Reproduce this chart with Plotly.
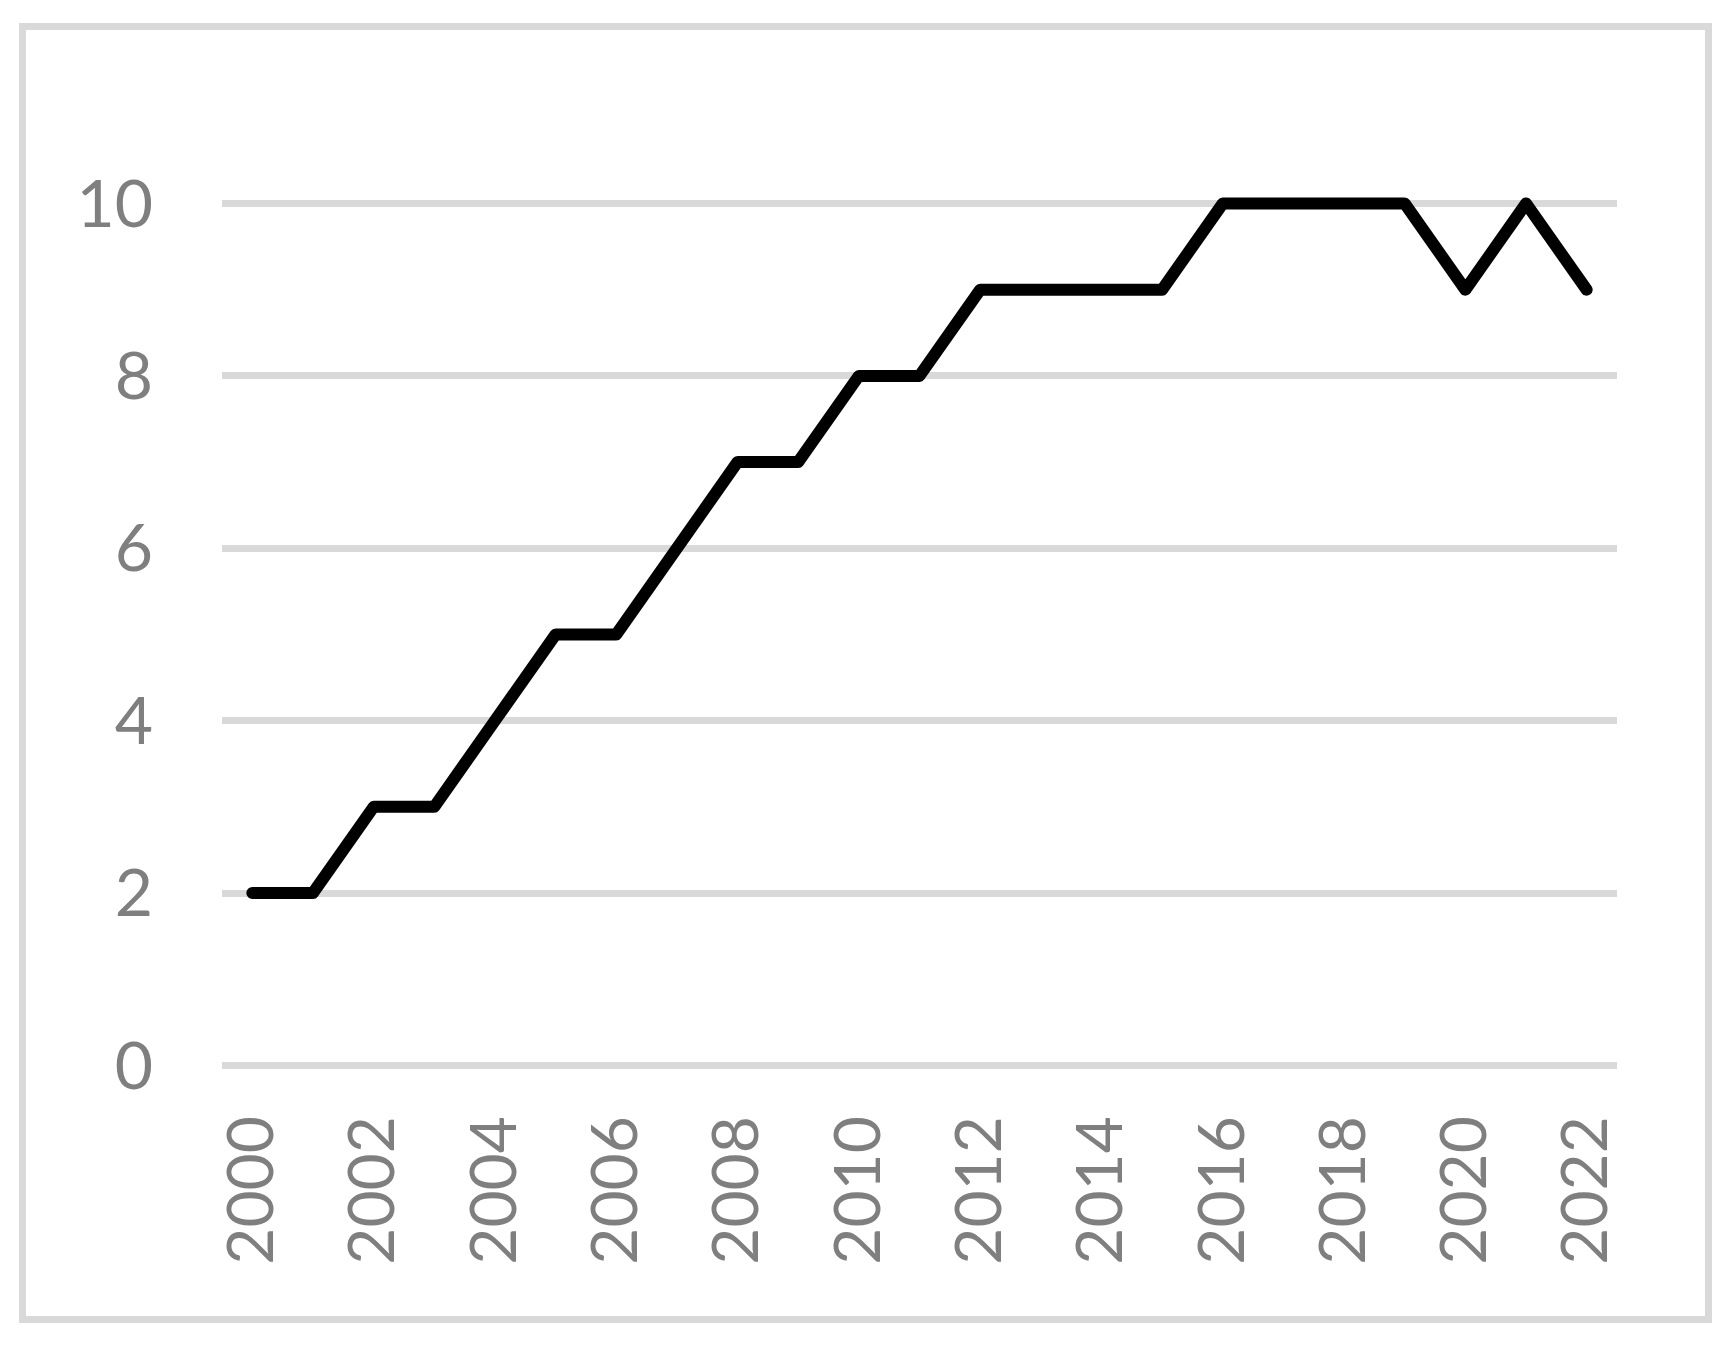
import plotly.graph_objects as go

years = list(range(2000, 2023))
values = [2, 2, 3, 3, 4, 5, 5, 6, 7, 7, 8, 8, 9, 9, 9, 9, 10, 10, 10, 10, 9, 10, 9]
x_ticks = list(range(2000, 2023, 2))
x_tick_labels = [str(v) for v in x_ticks]
y_ticks = [0, 2, 4, 6, 8, 10]
y_tick_labels = [str(v) for v in y_ticks]

W, H = 1728, 1346
GRID = "#D9D9D9"
TEXT = "#7F7F7F"
FONT = "Lato"

fig = go.Figure()
fig.add_trace(go.Scatter(
    x=years, y=values, mode="lines",
    line=dict(color="#000000", width=12),
    showlegend=False, hoverinfo="skip",
))

x0, x1 = 222 / W, 1617 / W
y_zero_px, y_ten_px = 1065.4, 203.5
unit = (y_zero_px - y_ten_px) / 10
ytop = 11
top_px = y_zero_px - ytop * unit

fig.update_layout(
    template="none",
    width=W, height=H,
    margin=dict(l=0, r=0, t=0, b=0, pad=0),
    paper_bgcolor="white", plot_bgcolor="white",
    font=dict(family=FONT, color=TEXT, size=66),
    xaxis=dict(
        domain=[x0, x1], range=[1999.5, 2022.5], automargin=False,
        tickmode="array", tickvals=x_ticks, ticktext=x_tick_labels,
        tickangle=-90, showgrid=False, zeroline=False, showline=False,
        ticks="", ticklabelstandoff=37,
        tickfont=dict(family=FONT, color=TEXT, size=64),
    ),
    yaxis=dict(
        domain=[1 - y_zero_px / H, 1 - top_px / H], range=[0, ytop], automargin=False,
        tickmode="array", tickvals=y_ticks, ticktext=y_tick_labels,
        showgrid=True, gridcolor=GRID, gridwidth=7,
        zeroline=True, zerolinecolor=GRID, zerolinewidth=7,
        showline=False, ticks="", ticklabelstandoff=68,
        tickfont=dict(family=FONT, color=TEXT, size=66),
    ),
    shapes=[dict(
        type="rect", xref="paper", yref="paper",
        x0=22.5 / W, x1=1708.5 / W, y0=1 - 1319.5 / H, y1=1 - 26.5 / H,
        line=dict(color=GRID, width=7), fillcolor="rgba(0,0,0,0)", layer="below",
    )],
)

fig.write_html(
    "out.html",
    config={"displayModeBar": False},
    post_script=(
        "document.body.style.margin='0';document.body.style.overflow='hidden';"
        "document.querySelectorAll('.js-line').forEach(function(p){"
        "p.style.strokeLinejoin='round';p.style.strokeLinecap='round';});"
    ),
)
